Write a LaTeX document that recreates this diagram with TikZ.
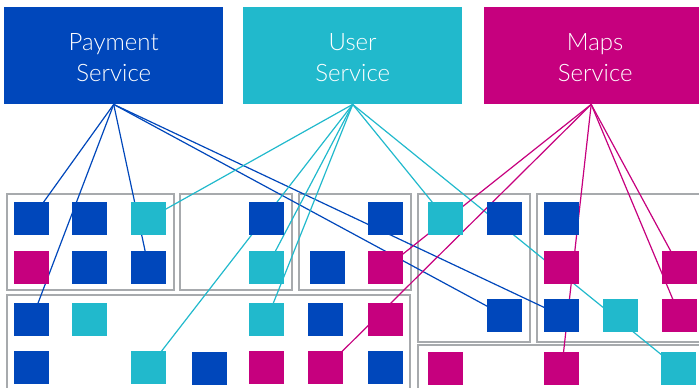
\documentclass[tikz,border=0pt]{standalone}
\usepackage{fontspec}
\setmainfont{Lato Light}
\usetikzlibrary{backgrounds}
\pgfdeclarelayer{panels}
\pgfsetlayers{panels,background,main}

\definecolor{payblue}{HTML}{0047BB}
\definecolor{usercyan}{HTML}{21B9CC}
\definecolor{mapsmag}{HTML}{C6007E}
\definecolor{panelgray}{HTML}{A7AAAD}

\tikzset{
  service/.style={fill=#1, draw=none, anchor=north west, inner sep=0pt,
    minimum height=97pt},
  servicetext/.style={text=white, align=center, inner sep=0pt,
    font=\fontsize{24pt}{31pt}\selectfont},
  sq/.style={fill=#1, draw=none, anchor=north west, inner sep=0pt,
    minimum width=35pt, minimum height=33pt},
  panel/.style={draw=panelgray, line width=1.8pt},
  link/.style={draw=#1, line width=1.2pt},
}

\begin{document}
\begin{tikzpicture}[x=1pt, y=-1pt]
\useasboundingbox (0,0) rectangle (699,388);
\clip (0,0) rectangle (699,388);

% service boxes and their names
\node[service=payblue, minimum width=219pt] (pay) at (4,7) {};
\node[service=usercyan, minimum width=219pt] (usr) at (243,7) {};
\node[service=mapsmag, minimum width=222pt] (maps) at (484,7) {};
\node[servicetext] (payL) at ([yshift=-1.5pt]pay.center) {Payment\\Service};
\node[servicetext] (usrL) at ([yshift=-1.5pt]usr.center) {User\\Service};
\node[servicetext] (mapsL) at ([yshift=-1.5pt]maps.center) {Maps\\Service};
% the Maps links leave the box a little left of its middle
\coordinate (mapsfoot) at ([xshift=-4pt]maps.south);

% grouping panels
\begin{pgfonlayer}{panels}
  \draw[panel] (7,194) rectangle (174,290);
  \draw[panel] (180,194) rectangle (292,290);
  \draw[panel] (299,194) rectangle (411,290);
  \draw[panel] (418,194) rectangle (530,342);
  \draw[panel] (537,194) rectangle (720,342);
  \draw[panel] (7,295) rectangle (410,400);
  \draw[panel] (418,345) rectangle (720,400);
\end{pgfonlayer}

% first panel
\node[sq=payblue]  (a1) at (14,202) {};
\node[sq=payblue]  (a2) at (72,202) {};
\node[sq=usercyan] (a3) at (131,202) {};
\node[sq=mapsmag]  (a4) at (14,251) {};
\node[sq=payblue]  (a5) at (72,251) {};
\node[sq=payblue]  (a6) at (131,251) {};
% second panel
\node[sq=payblue]  (b1) at (249,202) {};
\node[sq=usercyan] (b2) at (249,251) {};
% third panel
\node[sq=payblue]  (c1) at (368,202) {};
\node[sq=payblue]  (c2) at (310,251) {};
\node[sq=mapsmag]  (c3) at (368,251) {};
% lower left panel
\node[sq=payblue]  (d1) at (14,303) {};
\node[sq=usercyan] (d2) at (72,303) {};
\node[sq=usercyan] (d3) at (249,303) {};
\node[sq=payblue]  (d4) at (308,303) {};
\node[sq=mapsmag]  (d5) at (368,303) {};
\node[sq=payblue]  (d6) at (14,351) {};
\node[sq=usercyan] (d7) at (131,351) {};
\node[sq=payblue]  (d8) at (192,352) {};
\node[sq=mapsmag]  (d9) at (249,351) {};
\node[sq=mapsmag]  (d10) at (308,351) {};
\node[sq=payblue]  (d11) at (368,351) {};
% fourth panel
\node[sq=usercyan] (e1) at (428,202) {};
\node[sq=payblue]  (e2) at (487,202) {};
\node[sq=payblue]  (e3) at (487,299) {};
% fifth panel
\node[sq=payblue]  (f1) at (544,202) {};
\node[sq=mapsmag]  (f2) at (544,251) {};
\node[sq=mapsmag]  (f3) at (662,251) {};
\node[sq=payblue]  (f4) at (544,299) {};
\node[sq=usercyan] (f5) at (603,299) {};
\node[sq=mapsmag]  (f6) at (662,299) {};
% lower right panel
\node[sq=mapsmag]  (g1) at (428,352) {};
\node[sq=mapsmag]  (g2) at (544,352) {};
\node[sq=usercyan] (g3) at (661,352) {};

% connectors, kept behind the squares
\begin{pgfonlayer}{background}
  \foreach \t in {a1,a6,d1,e3,f4}
    \draw[link=payblue] (pay.south) -- (\t.center);
  \foreach \t in {a3,d7,b2,d3,e1,g3}
    \draw[link=usercyan] (usr.south) -- (\t.center);
  \foreach \t in {c3,d10,g2,f3,f6}
    \draw[link=mapsmag] (mapsfoot) -- (\t.center);
\end{pgfonlayer}
\end{tikzpicture}
\end{document}
